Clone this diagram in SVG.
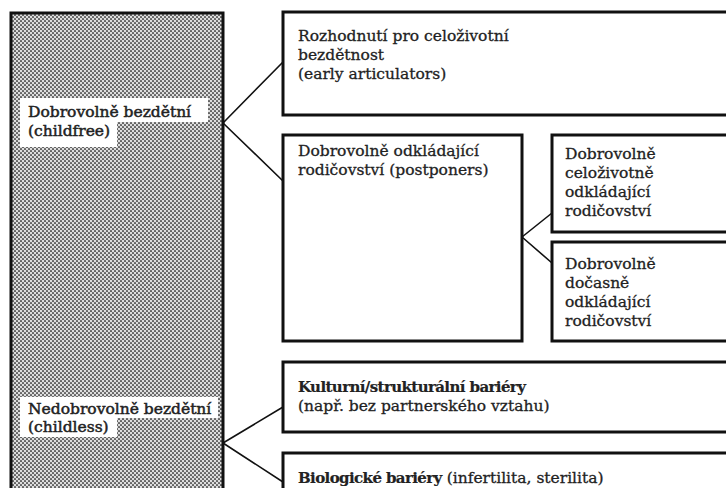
<svg xmlns="http://www.w3.org/2000/svg" width="726" height="488" viewBox="0 0 726 488">
<defs>
<pattern id="dots" width="4" height="4" patternUnits="userSpaceOnUse">
<rect width="4" height="4" fill="#b0b0b0"/>
<circle cx="1" cy="1" r="0.85" fill="#2a2a2a"/>
<circle cx="3" cy="3" r="0.85" fill="#2a2a2a"/>
<circle cx="3" cy="1" r="0.9" fill="#f4f4f4"/>
<circle cx="1" cy="3" r="0.9" fill="#f4f4f4"/>
</pattern>
<style>
.box{fill:#fff;stroke:#111;stroke-width:3}
.t{font-family:"DejaVu Serif","Liberation Serif",serif;font-size:15.5px;fill:#222;stroke:#222;stroke-width:0.3}
.h{stroke-width:0.5}
.b{font-weight:bold;stroke-width:0.2;font-size:15px;letter-spacing:-0.6px}
.c{fill:none;stroke:#111;stroke-width:1.6}
.lbl{fill:#fff}
</style>
</defs>
<rect width="726" height="488" fill="#fff"/>
<g id="connectors">
<path class="c" d="M223,123 L283,62 M223,123 L283,181"/>
<path class="c" d="M522,237 L552,213 M522,237 L552,263"/>
<path class="c" d="M223,443 L283,407 M223,443 L283,482"/>
</g>
<g id="left">
<rect x="11" y="13" width="212" height="490" fill="url(#dots)" stroke="#111" stroke-width="3"/>
<path class="lbl" d="M20,98 H208 V122 H117 V147 H20 Z"/>
<text class="t h" x="28" y="117">Dobrovolně bezdětní</text>
<text class="t h" x="28" y="136">(childfree)</text>
<path class="lbl" d="M20,397 H218 V418 H117 V437 H20 Z"/>
<text class="t h" x="28" y="414">Nedobrovolně bezdětní</text>
<text class="t h" x="28" y="432">(childless)</text>
</g>
<g id="early">
<rect class="box" x="283" y="12" width="460" height="103"/>
<text class="t" x="298" y="41">Rozhodnutí pro celoživotní</text>
<text class="t" x="298" y="60">bezdětnost</text>
<text class="t" x="298" y="79">(early articulators)</text>
</g>
<g id="postponers">
<rect class="box" x="283" y="135" width="239" height="206"/>
<text class="t" x="298" y="156">Dobrovolně odkládající</text>
<text class="t" x="298" y="175">rodičovství (postponers)</text>
</g>
<g id="lifelong">
<rect class="box" x="552" y="135" width="190" height="97"/>
<text class="t" x="565" y="159">Dobrovolně</text>
<text class="t" x="565" y="178">celoživotně</text>
<text class="t" x="565" y="197">odkládající</text>
<text class="t" x="565" y="216">rodičovství</text>
</g>
<g id="temporary">
<rect class="box" x="552" y="242" width="190" height="99"/>
<text class="t" x="565" y="269">Dobrovolně</text>
<text class="t" x="565" y="288">dočasně</text>
<text class="t" x="565" y="307">odkládající</text>
<text class="t" x="565" y="326">rodičovství</text>
</g>
<g id="cultural">
<rect class="box" x="283" y="362" width="460" height="70"/>
<text class="t" x="298" y="392"><tspan class="b">Kulturní/strukturální bariéry</tspan></text>
<text class="t" x="298" y="411">(např. bez partnerského vztahu)</text>
</g>
<g id="biological">
<rect class="box" x="283" y="453" width="460" height="60"/>
<text class="t" x="298" y="483"><tspan class="b">Biologické bariéry</tspan> (infertilita, sterilita)</text>
</g>
</svg>
